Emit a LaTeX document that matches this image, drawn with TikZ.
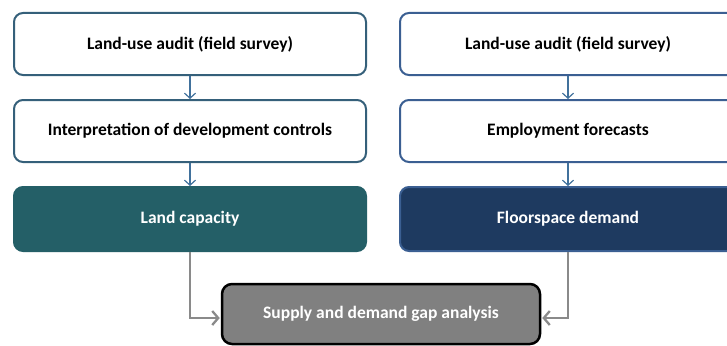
\documentclass[tikz,border=0pt]{standalone}
\usepackage{fontspec}
\setmainfont{Carlito}
\usetikzlibrary{arrows.meta}
\definecolor{lborder}{HTML}{35607A}
\definecolor{rborder}{HTML}{3B5F92}
\definecolor{tealfill}{HTML}{245F67}
\definecolor{navyfill}{HTML}{1E3A60}
\definecolor{grayfill}{HTML}{808080}
\definecolor{arrblue}{HTML}{41719C}
\definecolor{arrgray}{HTML}{8A8A8A}
\tikzset{
  whitebox/.style={draw, line width=2pt, rounded corners=9pt, fill=white, font=\bfseries\fontsize{17.5}{20}\selectfont, text=black, inner sep=0pt},
  filledbox/.style={draw, line width=2pt, rounded corners=9pt, font=\bfseries\fontsize{17.5}{20}\selectfont, text=white, inner sep=0pt},
  bluearr/.style={draw=arrblue, line width=1.2pt, -{Straight Barb[length=5pt,width=11pt,line width=1.2pt]}},
  grayarr/.style={draw=arrgray, line width=2.3pt, -{Straight Barb[length=6pt,width=14pt,line width=2.3pt]}}
}
\begin{document}
\begin{tikzpicture}[x=1pt,y=-1pt]
\clip (0,0) rectangle (727,345);
\fill[white] (0,0) rectangle (727,345);
% left column
\node[whitebox, draw=lborder, minimum width=352pt, minimum height=62pt] (l1) at (190,44) {Land-use audit (field survey)};
\node[whitebox, draw=lborder, minimum width=352pt, minimum height=62pt] (l2) at (190,131) {Interpretation of development controls};
\node[filledbox, draw=tealfill, fill=tealfill, minimum width=352pt, minimum height=64pt] (l3) at (190,219) {Land capacity};
% right column
\node[whitebox, draw=rborder, minimum width=336pt, minimum height=62pt] (r1) at (568,44) {Land-use audit (field survey)};
\node[whitebox, draw=rborder, minimum width=336pt, minimum height=62pt] (r2) at (568,131) {Employment forecasts};
\node[filledbox, draw=rborder, fill=navyfill, minimum width=336pt, minimum height=64pt] (r3) at (568,219) {Floorspace demand};
% bottom
\node[filledbox, draw=black, line width=2.5pt, fill=grayfill, rounded corners=10pt, minimum width=318pt, minimum height=60pt] (b) at (381,314) {Supply and demand gap analysis};
% arrows
\draw[bluearr] (l1) -- (l2);
\draw[bluearr] (l2) -- (l3);
\draw[bluearr] (r1) -- (r2);
\draw[bluearr] (r2) -- (r3);
\coordinate (bl) at (b.west |- 0,318);
\coordinate (br) at (b.east |- 0,318);
\draw[grayarr] (l3.south) |- ([xshift=-1pt]bl);
\draw[grayarr] (r3.south) |- ([xshift=1pt]br);
\end{tikzpicture}
\end{document}
